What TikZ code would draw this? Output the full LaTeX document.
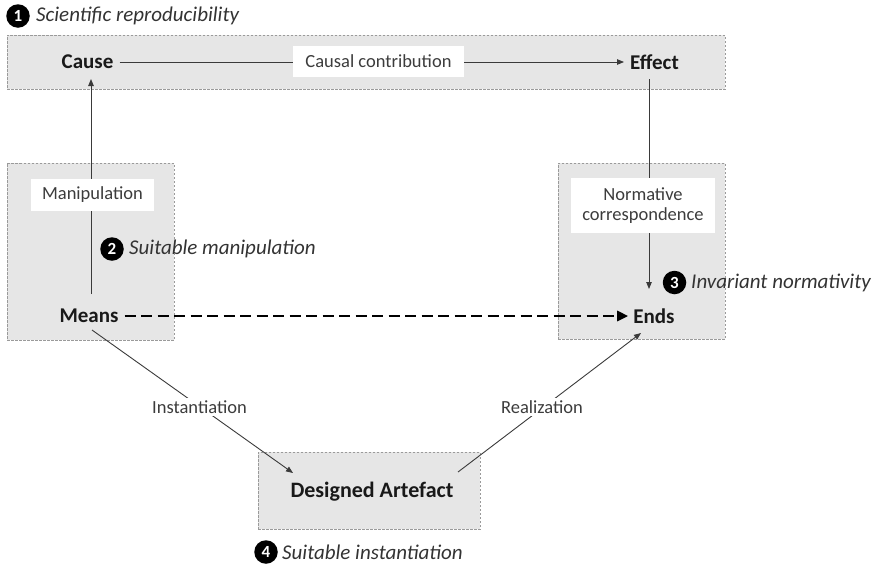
\documentclass[tikz,border=0pt]{standalone}
\usepackage{fontspec}
\setmainfont{Carlito}
\usetikzlibrary{arrows.meta}
\definecolor{zonefill}{HTML}{E6E6E6}
\definecolor{zoneline}{HTML}{9A9A9A}
\definecolor{linkgray}{HTML}{3A3A3A}
\definecolor{labelgray}{HTML}{3C3C3C}
\tikzset{
  zone/.style={draw=zoneline, fill=zonefill, dashed, dash pattern=on 2.5pt off 1.5pt, line width=0.8pt, inner sep=0pt},
  concept/.style={font=\fontsize{21}{24}\selectfont\bfseries, text=black!90, inner sep=2pt},
  tag/.style={fill=white, text=labelgray, font=\fontsize{18.5}{22}\selectfont, inner sep=0pt, align=center},
  link/.style={draw=linkgray, line width=0.9pt, -{Triangle[length=7pt,width=5.5pt]}},
  badge/.style={circle, fill=black, text=white, inner sep=0pt, minimum size=23.5pt, font=\fontsize{17}{17}\selectfont\bfseries},
  remark/.style={font=\fontsize{21}{24}\selectfont\itshape, text=black!80, anchor=west, inner sep=0pt}
}
\begin{document}
\begin{tikzpicture}[x=1pt,y=-1pt]
  \useasboundingbox (0,0) rectangle (880,568);

  % grey zones
  \node[zone, minimum width=718pt, minimum height=54pt] (topzone) at (366,62) {};
  \node[zone, minimum width=167pt, minimum height=177pt] (meanszone) at (90.5,251.5) {};
  \node[zone, minimum width=167pt, minimum height=176pt] (endszone) at (641.5,251) {};
  \node[zone, minimum width=222pt, minimum height=77pt] (artzone) at (369,490.5) {};

  % concepts
  \node[concept] (cause) at (87.5,62) {Cause};
  \node[concept] (effect) at (654.5,62) {Effect};
  \node[concept] (means) at (89,316) {Means};
  \node[concept] (ends) at (654,316) {Ends};
  \node[concept, font=\fontsize{22}{25}\selectfont\bfseries] (art) at (372,492) {Designed Artefact};

  % anchor points of the connectors
  \coordinate (manipfoot) at (91,294);
  \coordinate (manipend) at (91,79);
  \coordinate (normtop) at (649,79);
  \coordinate (normend) at (649,289);
  \coordinate (instfoot) at (92,330);
  \coordinate (insttip) at (293,473);
  \coordinate (realfoot) at (458,472);
  \coordinate (realtip) at (641,333);

  % causal contribution
  \draw[link] ([xshift=4pt]cause.east) -- ([xshift=-4pt]effect.west);
  \node[tag, minimum width=171pt, minimum height=31pt] (causal) at (378.5,61.5) {Causal contribution};

  % manipulation
  \draw[link] (manipfoot) -- (manipend);
  \node[tag, minimum width=123pt, minimum height=32pt] (manip) at (92.5,195) {Manipulation};

  % normative correspondence
  \draw[link] (normtop) -- (normend);
  \node[tag, minimum width=144pt, minimum height=55pt] (norm) at (643,205.5) {Normative\\[-2pt]correspondence};

  % means to ends
  \draw[line width=2.6pt, black, dash pattern=on 11pt off 5.5pt, -{Triangle[length=11pt,width=10pt]}]
    ([xshift=4pt]means.east) -- ([xshift=-3pt]ends.west);

  % instantiation and realization
  \draw[link] (instfoot) -- (insttip);
  \node[tag, inner sep=3pt] (inst) at (199.5,407) {Instantiation};
  \draw[link] (realfoot) -- (realtip);
  \node[tag, inner sep=3pt] (real) at (542,407) {Realization};

  % numbered remarks
  \node[badge] (b1) at (18,16) {1};
  \node[remark] (r1) at (36,16) {Scientific reproducibility};
  \node[badge] (b2) at (112,249) {2};
  \node[remark] (r2) at (129,249) {Suitable manipulation};
  \node[badge] (b3) at (674.5,282.5) {3};
  \node[remark] (r3) at (691,282.5) {Invariant normativity};
  \node[badge] (b4) at (266,552) {4};
  \node[remark] (r4) at (282,552) {Suitable instantiation};
\end{tikzpicture}
\end{document}
